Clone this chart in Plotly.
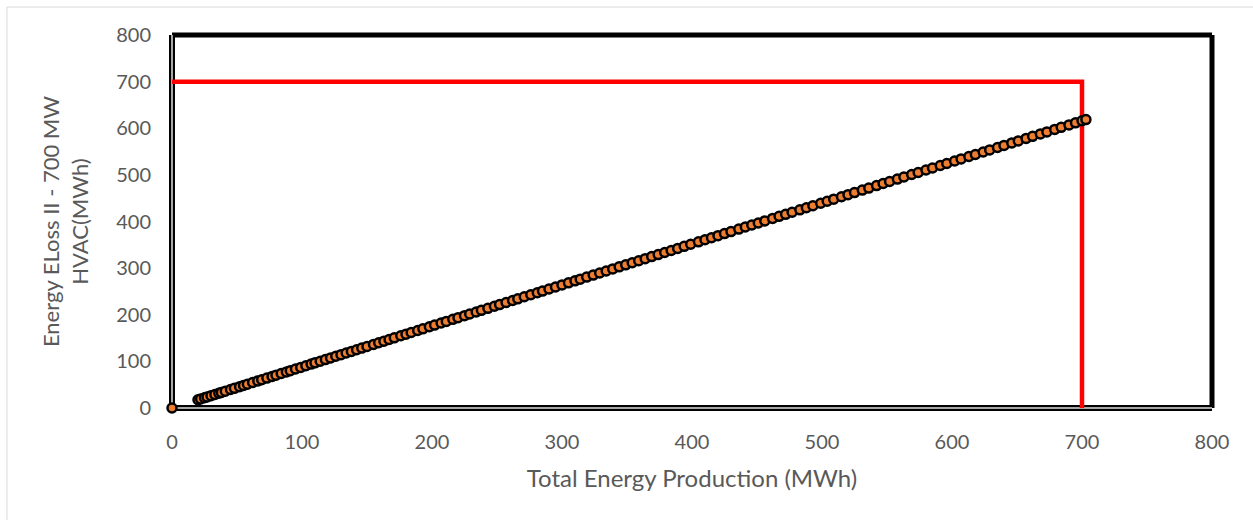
import plotly.graph_objects as go

# Scatter data: Total Energy Production (MWh) vs Energy ELoss II - 700 MW HVAC (MWh)
production = [0, 20, 22, 25, 27, 30, 33, 36, 38, 41, 45, 48, 52, 55, 58, 62, 66, 69, 73, 77, 80,
              84, 88, 91, 95, 99, 103, 107, 110, 114, 118, 122, 126, 130, 134, 138, 142, 146,
              150, 155, 159, 163, 167, 171, 176, 180, 184, 189, 193, 198, 202, 207, 211, 216,
              220, 225, 229, 234, 238, 243, 248, 252, 257, 262, 266, 271, 276, 281, 285, 290,
              295, 300, 305, 310, 314, 319, 324, 329, 334, 339, 344, 349, 354, 359, 364, 369,
              374, 379, 384, 389, 394, 399, 405, 410, 415, 420, 425, 430, 436, 441, 446, 451,
              456, 462, 467, 472, 477, 483, 488, 493, 499, 504, 509, 515, 520, 525, 531, 536,
              542, 547, 552, 558, 563, 569, 574, 580, 585, 591, 596, 602, 607, 613, 618, 624,
              629, 635, 640, 646, 651, 657, 662, 668, 673, 679, 684, 690, 695, 700, 703]
eloss = [0, 17.6, 19.4, 22.0, 23.8, 26.4, 29.0, 31.7, 33.4, 36.1, 39.6, 42.2, 45.8, 48.4, 51.0,
         54.6, 58.1, 60.7, 64.2, 67.8, 70.4, 73.9, 77.4, 80.1, 83.6, 87.1, 90.6, 94.2, 96.8,
         100.3, 103.8, 107.4, 110.9, 114.4, 117.9, 121.4, 125.0, 128.5, 132.0, 136.4, 139.9,
         143.4, 147.0, 150.5, 154.9, 158.4, 161.9, 166.3, 169.8, 174.2, 177.8, 182.2, 185.7,
         190.1, 193.6, 198.0, 201.5, 205.9, 209.4, 213.8, 218.2, 221.8, 226.2, 230.6, 234.1,
         238.5, 242.9, 247.3, 250.8, 255.2, 259.6, 264.0, 268.4, 272.8, 276.3, 280.7, 285.1,
         289.5, 293.9, 298.3, 302.7, 307.1, 311.5, 315.9, 320.3, 324.7, 329.1, 333.5, 337.9,
         342.3, 346.7, 351.1, 356.4, 360.8, 365.2, 369.6, 374.0, 378.4, 383.7, 388.1, 392.5,
         396.9, 401.3, 406.6, 411.0, 415.4, 419.8, 425.0, 429.4, 433.8, 439.1, 443.5, 447.9,
         453.2, 457.6, 462.0, 467.3, 471.7, 477.0, 481.4, 485.8, 491.0, 495.4, 500.7, 505.1,
         510.4, 514.8, 520.1, 524.5, 529.8, 534.2, 539.4, 543.8, 549.1, 553.5, 558.8, 563.2,
         568.5, 572.9, 578.2, 582.6, 587.8, 592.2, 597.5, 601.9, 607.2, 611.6, 616.0, 618.6]

# Red limit lines (700 MW)
limit_x = [0, 700, 700]
limit_y = [700, 700, 0]

tick_vals = [0, 100, 200, 300, 400, 500, 600, 700, 800]
tick_text = ["0", "100", "200", "300", "400", "500", "600", "700", "800"]

FONT = "Lato"
GREY_TXT = "#595959"

fig = go.Figure()

fig.add_trace(go.Scatter(
    x=limit_x, y=limit_y, mode="lines",
    line=dict(color="#FF0000", width=4.5),
    hoverinfo="skip", showlegend=False, cliponaxis=False,
))

fig.add_trace(go.Scatter(
    x=production, y=eloss, mode="markers",
    marker=dict(color="#ED7D31", size=9, line=dict(color="black", width=2.5)),
    showlegend=False, cliponaxis=False,
))

shapes = []
# outer light gray chart border (left & top)
shapes.append(dict(type="line", xref="paper", yref="paper", x0=-0.1587, x1=1.05, y0=1.075, y1=1.075,
                   line=dict(color="#D9D9D9", width=1), layer="below"))
shapes.append(dict(type="line", xref="paper", yref="paper", x0=-0.1587, x1=-0.1587, y0=1.075, y1=-0.3,
                   line=dict(color="#D9D9D9", width=1), layer="below"))
# top and right thick black frame
shapes.append(dict(type="line", xref="paper", yref="paper", x0=0, x1=1, y0=1, y1=1,
                   line=dict(color="black", width=5), layer="below"))
shapes.append(dict(type="line", xref="paper", yref="paper", x0=1, x1=1, y0=0, y1=1,
                   line=dict(color="black", width=5), layer="below"))
# left and bottom: black outline with grey core
for w, c in [(6, "black"), (2, "#A6A6A6")]:
    shapes.append(dict(type="line", xref="paper", yref="paper", x0=0, x1=1, y0=0, y1=0,
                       line=dict(color=c, width=w), layer="below"))
    shapes.append(dict(type="line", xref="paper", yref="paper", x0=0, x1=0, y0=0, y1=1,
                       line=dict(color=c, width=w), layer="below"))

fig.update_layout(
    width=1253, height=524,
    margin=dict(l=172, r=41, t=35, b=116),
    paper_bgcolor="white", plot_bgcolor="white",
    font=dict(family=FONT, color=GREY_TXT, size=20),
    shapes=shapes,
    xaxis=dict(
        range=[0, 800], tickvals=tick_vals, ticktext=tick_text,
        showgrid=False, zeroline=False, showline=False, ticks="",
        ticklabelstandoff=20,
        title=dict(text="Total Energy Production (MWh)", font=dict(size=24, color=GREY_TXT), standoff=18),
    ),
    yaxis=dict(
        range=[0, 800], tickvals=tick_vals, ticktext=tick_text,
        showgrid=False, zeroline=False, showline=False, ticks="",
        ticklabelstandoff=20,
        title=dict(text="Energy ELoss II - 700 MW<br>HVAC(MWh)", font=dict(size=22, color=GREY_TXT), standoff=21),
    ),
)

fig.write_html("out.html")
